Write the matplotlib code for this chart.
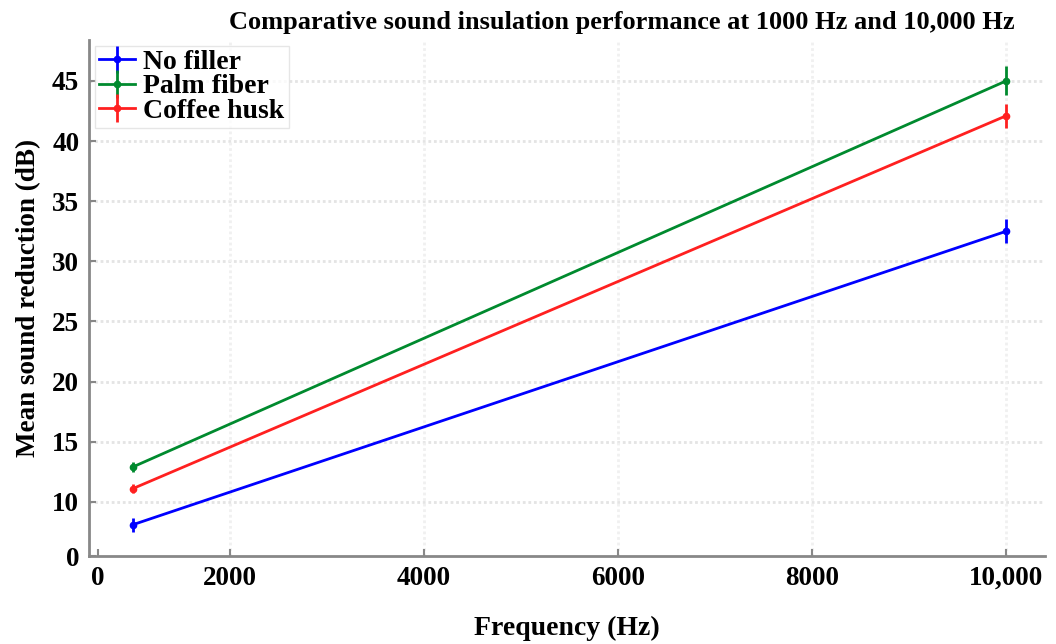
import matplotlib
matplotlib.use("Agg")
import matplotlib.pyplot as plt

freq = [1000, 10000]
series = ["No filler", "Palm fiber", "Coffee husk"]
means = {
    "No filler": [8.1, 32.5],
    "Palm fiber": [12.9, 45.0],
    "Coffee husk": [11.1, 42.1],
}
errs = {
    "No filler": [0.6, 1.0],
    "Palm fiber": [0.4, 1.2],
    "Coffee husk": [0.4, 1.0],
}
colors = {"No filler": "#0000ff", "Palm fiber": "#008a2e", "Coffee husk": "#ff2020"}

xtick_pos = [640, 2000, 4000, 6000, 8000, 10000]
xtick_labels = ["0", "2000", "4000", "6000", "8000", "10,000"]
ytick_pos = [5.5, 10, 15, 20, 25, 30, 35, 40, 45]
ytick_labels = ["0", "10", "15", "20", "25", "30", "35", "40", "45"]

plt.rcParams['font.family'] = ['Liberation Serif', 'DejaVu Serif']

fig = plt.figure(figsize=(10.56, 6.44), dpi=100)
ax = fig.add_axes([0.0843, 0.1366, 0.9053, 0.8013])

for s in series:
    ax.errorbar(freq, means[s], yerr=errs[s], color=colors[s], lw=2,
                marker='o', markersize=4.5, elinewidth=2, capsize=0, label=s)

ax.set_xlim(550, 10400)
ax.set_ylim(5.5, 48.4)
ax.set_xticks(xtick_pos)
ax.set_xticklabels(xtick_labels)
ax.set_yticks(ytick_pos)
ax.set_yticklabels(ytick_labels)

for y in ytick_pos[1:]:
    ax.axhline(y, color='#e4e4e4', lw=2, ls=(0, (1, 1)), zorder=0)
for x in xtick_pos[1:]:
    ax.axvline(x, color='#f0f0f0', lw=2, ls=(0, (1, 1)), zorder=0)

for side in ['top', 'right']:
    ax.spines[side].set_visible(False)
for side in ['left', 'bottom']:
    ax.spines[side].set_color('#888888')
    ax.spines[side].set_linewidth(2)

ax.tick_params(direction='in', length=5, width=1.5, color='#888888',
               labelsize=19.5, pad=7)
for lab in ax.get_xticklabels() + ax.get_yticklabels():
    lab.set_fontweight('bold')

title = ax.set_title("Comparative sound insulation performance at 1000 Hz and 10,000 Hz",
                     fontsize=19, fontweight='bold', pad=8)
title.set_x(0.5575)
ax.set_xlabel("Frequency (Hz)", fontsize=20, fontweight='bold', labelpad=18)
ax.set_ylabel("Mean sound reduction (dB)", fontsize=19.5, fontweight='bold', labelpad=8)

leg = ax.legend(loc='upper left', bbox_to_anchor=(0.0, 1.0),
                prop={'weight': 'bold', 'size': 20},
                frameon=True, fancybox=False, edgecolor='#e0e0e0',
                handlelength=1.3, handletextpad=0.3, borderpad=0.15,
                labelspacing=-0.04, borderaxespad=0.2)

fig.savefig("out.png", dpi=100)
